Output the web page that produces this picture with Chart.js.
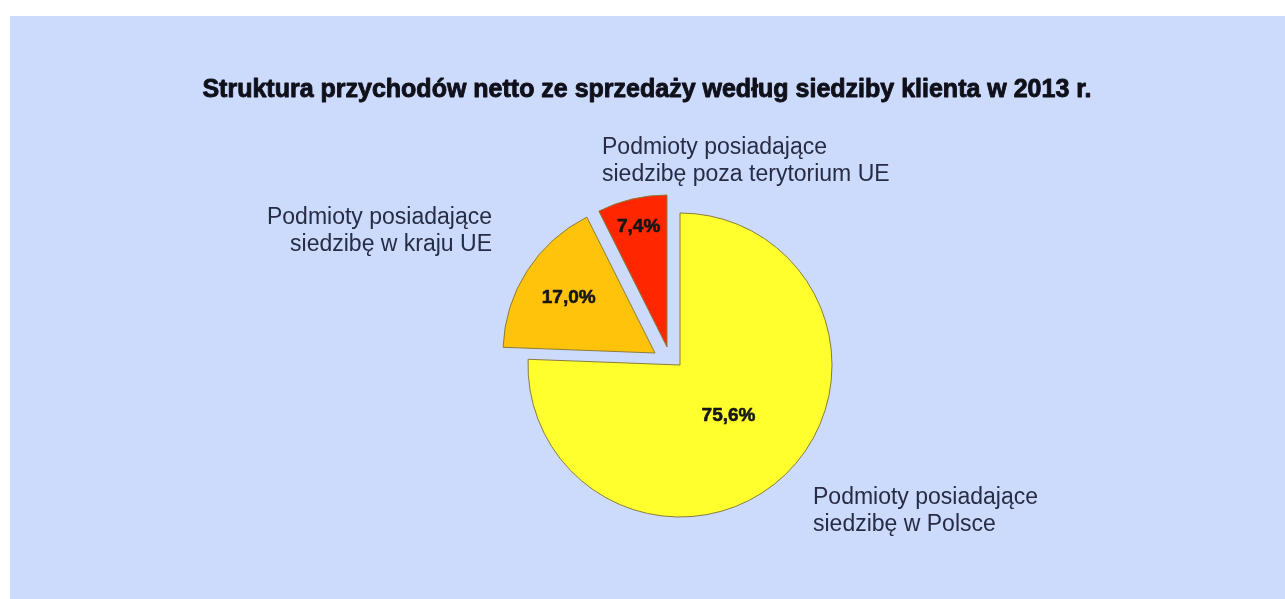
<!DOCTYPE html>
<html lang="pl">
<head>
<meta charset="utf-8">
<title>Struktura przychodów netto ze sprzedaży</title>
<script src="https://cdn.jsdelivr.net/npm/chart.js@4.4.1/dist/chart.umd.min.js"></script>
<style>
  html, body { margin: 0; padding: 0; background: #fff; overflow: hidden; }
  #panel { position: absolute; left: 10px; top: 16px; right: 0; bottom: 0; background: #ccdafc; }
  #chart { position: absolute; left: 0; top: 0; }
</style>
</head>
<body>
<div id="panel"></div>
<canvas id="chart" width="1285" height="599"></canvas>
<script>
// dane: udział w przychodach wg siedziby klienta (%)
const categories = [
    ['Podmioty posiadające', 'siedzibę w Polsce'],
    ['Podmioty posiadające', 'siedzibę w kraju UE'],
    ['Podmioty posiadające', 'siedzibę poza terytorium UE']
];
const shares = [75.6, 17.0, 7.4];
const chartTitle = 'Struktura przychodów netto ze sprzedaży według siedziby klienta w 2013 r.';

// wygląd wycinków
const sliceColors = ['#ffff2e', '#ffc30b', '#ff2600'];
const explodeShift = [[0, 0], [-25, -12], [-13, -18]];   // przesunięcie wysuniętych wycinków (px)
const valueRadius = [0.46, 0.675, 0.81];                 // położenie etykiet % względem promienia

// etykiety opisowe: odsunięcie od środka koła, pierwsza linia
const nameLabelPos = [
    { dx: 133, dy: 133, align: 'left' },
    { dx: -188, dy: -147, align: 'right' },
    { dx: -78, dy: -217, align: 'left' }
];

const FONT = '"Liberation Sans", Arial, Helvetica, sans-serif';

function fmtPct(v) {
    return v.toFixed(1).replace('.', ',') + '%';
}

// wysunięcie wycinków o zadany wektor
const explodePlugin = {
    id: 'explode',
    afterDatasetUpdate(chart, args) {
        const meta = chart.getDatasetMeta(args.index);
        meta.data.forEach((arc, i) => {
            arc.x += explodeShift[i][0];
            arc.y += explodeShift[i][1];
        });
    }
};

// tytuł, etykiety wartości i opisy
const textPlugin = {
    id: 'pieTexts',
    afterDatasetsDraw(chart) {
        const ctx = chart.ctx;
        const area = chart.chartArea;
        const cx = (area.left + area.right) / 2;
        const cy = (area.top + area.bottom) / 2;
        const meta = chart.getDatasetMeta(0);

        ctx.save();
        ctx.fillStyle = '#10101a';
        ctx.strokeStyle = '#10101a';
        ctx.lineJoin = 'round';
        ctx.font = 'bold 25px ' + FONT;
        ctx.textAlign = 'center';
        ctx.textBaseline = 'alphabetic';
        ctx.lineWidth = 0.9;
        ctx.fillText(chartTitle, 647, 97);
        ctx.strokeText(chartTitle, 647, 97);

        ctx.font = 'bold 19px ' + FONT;
        ctx.textBaseline = 'middle';
        ctx.fillStyle = '#161616';
        ctx.strokeStyle = '#161616';
        ctx.lineWidth = 0.6;
        meta.data.forEach((arc, i) => {
            const p = arc.getProps(['x', 'y', 'startAngle', 'endAngle', 'outerRadius'], true);
            const mid = (p.startAngle + p.endAngle) / 2;
            const r = p.outerRadius * valueRadius[i];
            const tx = p.x + Math.cos(mid) * r;
            const ty = p.y + Math.sin(mid) * r;
            ctx.fillText(fmtPct(shares[i]), tx, ty);
            ctx.strokeText(fmtPct(shares[i]), tx, ty);
        });

        ctx.font = '23px ' + FONT;
        ctx.fillStyle = '#262c44';
        categories.forEach((lines, i) => {
            const pos = nameLabelPos[i];
            ctx.textAlign = pos.align;
            lines.forEach((line, j) => {
                ctx.fillText(line, cx + pos.dx, cy + pos.dy + j * 27);
            });
        });
        ctx.restore();
    }
};

new Chart(document.getElementById('chart').getContext('2d'), {
    type: 'pie',
    data: {
        labels: categories.map(c => c.join(' ')),
        datasets: [{
            data: shares,
            backgroundColor: sliceColors,
            borderColor: '#8a7d3a',
            borderWidth: 1
        }]
    },
    options: {
        responsive: false,
        animation: false,
        events: [],
        radius: 152,
        rotation: 0,
        layout: {
            padding: { left: 480, right: 405, top: 170, bottom: 39 }
        },
        plugins: {
            legend: { display: false },
            title: { display: false },
            tooltip: { enabled: false }
        }
    },
    plugins: [explodePlugin, textPlugin]
});
</script>
</body>
</html>
